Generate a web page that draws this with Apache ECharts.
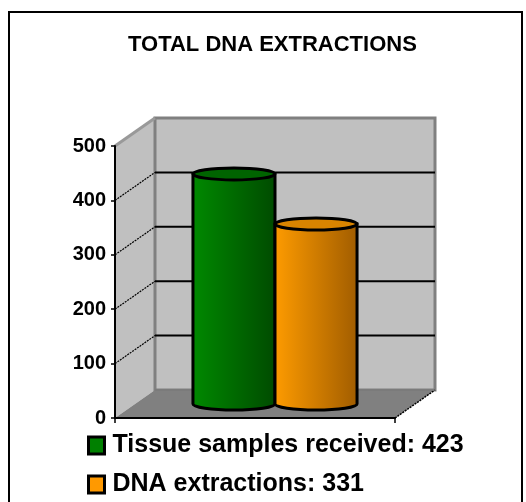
<!DOCTYPE html>
<html>
<head>
<meta charset="UTF-8"/>
<title>Total DNA extractions</title>
<script src="https://cdn.jsdelivr.net/npm/echarts@6/dist/echarts.min.js"></script>
<style>
  html, body { margin: 0; padding: 0; background: #fff; }
  #placeholder { width: 526px; height: 502px; }
</style>
</head>
<body>
<div id="placeholder"></div>
<script type="text/javascript">
var categories = [''];
var seriesNames = ['Tissue samples received', 'DNA extractions'];
var seriesValues = [423, 331];
var yTicks = [0, 100, 200, 300, 400, 500];

var FONT = '"Liberation Sans", Arial, sans-serif';
// depth of the fake 3d box (front plane -> back wall)
var DX = 40, DY = -28;
var BAR_RATIO = 0.293;
var bodyColors = [['#008a00', '#004a00'], ['#ff9c00', '#a05c00']];
var topColors = ['#006400', '#d88400'];
var legendColors = ['#008000', '#ff9900'];

var dom = document.getElementById('placeholder');
var myChart = echarts.init(dom);

// walls, floor and the receding grid lines
function renderWalls(params, api) {
    var c0 = api.coord([0, yTicks[0]]);
    var band = api.size([1, 0])[0];
    var xL = c0[0] - band / 2, xR = c0[0] + band / 2;
    var yB = c0[1];
    var yT = api.coord([0, yTicks[yTicks.length - 1]])[1];
    var kids = [];
    // side wall
    kids.push({type: 'polygon', shape: {points: [[xL, yT], [xL + DX, yT + DY], [xL + DX, yB + DY], [xL, yB]]},
        style: {fill: '#c0c0c0', stroke: null}});
    // floor
    kids.push({type: 'polygon', shape: {points: [[xL, yB], [xR, yB], [xR + DX, yB + DY], [xL + DX, yB + DY]]},
        style: {fill: '#808080', stroke: null}});
    // back wall
    kids.push({type: 'rect', shape: {x: xL + DX, y: yT + DY, width: xR - xL, height: yB - yT},
        style: {fill: '#c0c0c0', stroke: '#808080', lineWidth: 3}});
    for (var i = 1; i < yTicks.length - 1; i++) {
        var y = api.coord([0, yTicks[i]])[1];
        kids.push({type: 'line', shape: {x1: xL + DX, y1: y + DY, x2: xR + DX, y2: y + DY},
            style: {stroke: '#000', lineWidth: 2}});
        kids.push({type: 'line', shape: {x1: xL, y1: y, x2: xL + DX, y2: y + DY},
            style: {stroke: '#000', lineWidth: 1.2, lineDash: [2, 1]}});
    }
    // top edge of side wall
    kids.push({type: 'line', shape: {x1: xL, y1: yT, x2: xL + DX, y2: yT + DY},
        style: {stroke: '#999', lineWidth: 3}});
    // right edge of floor
    kids.push({type: 'line', shape: {x1: xR, y1: yB, x2: xR + DX, y2: yB + DY},
        style: {stroke: '#000', lineWidth: 1.5, lineDash: [2, 1]}});
    kids.push({type: 'line', shape: {x1: xL + DX, y1: yB + DY, x2: xR + DX, y2: yB + DY},
        style: {stroke: '#777', lineWidth: 1}});
    return {type: 'group', children: kids};
}

function makeCylinder(idx) {
    return function (params, api) {
        var top = api.coord([api.value(0), api.value(1)]);
        var base = api.coord([api.value(0), 0]);
        var band = api.size([1, 0])[0];
        var w = band * BAR_RATIO;
        var cx = top[0] + (idx === 0 ? -w / 2 : w / 2) + DX / 2;
        var yT = top[1] + DY / 2, yB = base[1] + DY / 2;
        var x0 = cx - w / 2, x1 = cx + w / 2, rx = w / 2, ry = 6;
        var body = 'M' + x0 + ',' + yT + ' L' + x0 + ',' + yB +
            ' A' + rx + ',' + ry + ' 0 0 0 ' + x1 + ',' + yB +
            ' L' + x1 + ',' + yT + ' Z';
        var cap = 'M' + x0 + ',' + yT +
            ' A' + rx + ',' + ry + ' 0 1 0 ' + x1 + ',' + yT +
            ' A' + rx + ',' + ry + ' 0 1 0 ' + x0 + ',' + yT + ' Z';
        return {
            type: 'group',
            children: [
                {type: 'path', shape: {pathData: body}, style: {
                    fill: new echarts.graphic.LinearGradient(0, 0, 1, 0, [
                        {offset: 0, color: bodyColors[idx][0]},
                        {offset: 1, color: bodyColors[idx][1]}]),
                    stroke: '#000', lineWidth: 3}},
                {type: 'path', shape: {pathData: cap}, style: {
                    fill: topColors[idx], stroke: '#000', lineWidth: 3}}
            ]
        };
    };
}

var series = [{
    name: 'walls',
    type: 'custom',
    silent: true,
    z: 1,
    renderItem: renderWalls,
    data: [[0, 0]]
}];
for (var s = 0; s < seriesNames.length; s++) {
    series.push({
        name: seriesNames[s],
        type: 'custom',
        z: 3,
        itemStyle: {color: legendColors[s]},
        renderItem: makeCylinder(s),
        encode: {x: 0, y: 1},
        data: [[0, seriesValues[s]]]
    });
}

var option = {
    backgroundColor: '#fff',
    animation: false,
    title: {
        text: 'TOTAL DNA EXTRACTIONS',
        left: 123,
        top: 29,
        textStyle: {fontFamily: FONT, fontWeight: 'bold', fontSize: 22, color: '#000'}
    },
    legend: {
        orient: 'vertical',
        left: 87,
        top: 433,
        padding: 0,
        icon: 'rect',
        itemWidth: 16,
        itemHeight: 17,
        itemGap: 14,
        data: seriesNames,
        itemStyle: {borderColor: '#000', borderWidth: 3},
        formatter: function (name) {
            return name + ': ' + seriesValues[seriesNames.indexOf(name)];
        },
        textStyle: {fontFamily: FONT, fontWeight: 'bold', fontSize: 25, lineHeight: 25,
            color: '#000', padding: [0, 0, 0, 3]}
    },
    graphic: [{
        type: 'rect',
        shape: {x: 9, y: 12, width: 513, height: 500},
        style: {fill: null, stroke: '#000', lineWidth: 2},
        silent: true
    }],
    grid: {left: 115, right: 131, top: 146, bottom: 84, containLabel: false},
    xAxis: {
        type: 'category',
        data: categories,
        z: 5,
        axisLine: {lineStyle: {color: '#000', width: 2}},
        axisTick: {show: true, length: 5, lineStyle: {color: '#000', width: 1.5}},
        axisLabel: {show: false}
    },
    yAxis: {
        type: 'value',
        min: yTicks[0],
        max: yTicks[yTicks.length - 1],
        interval: 100,
        z: 5,
        axisLine: {show: true, lineStyle: {color: '#000', width: 2}},
        axisTick: {show: true, length: 4, lineStyle: {color: '#000', width: 1.5}},
        splitLine: {show: false},
        axisLabel: {margin: 9, color: '#000', fontFamily: FONT, fontWeight: 'bold', fontSize: 20}
    },
    series: series
};
myChart.setOption(option, true);
</script>
</body>
</html>
